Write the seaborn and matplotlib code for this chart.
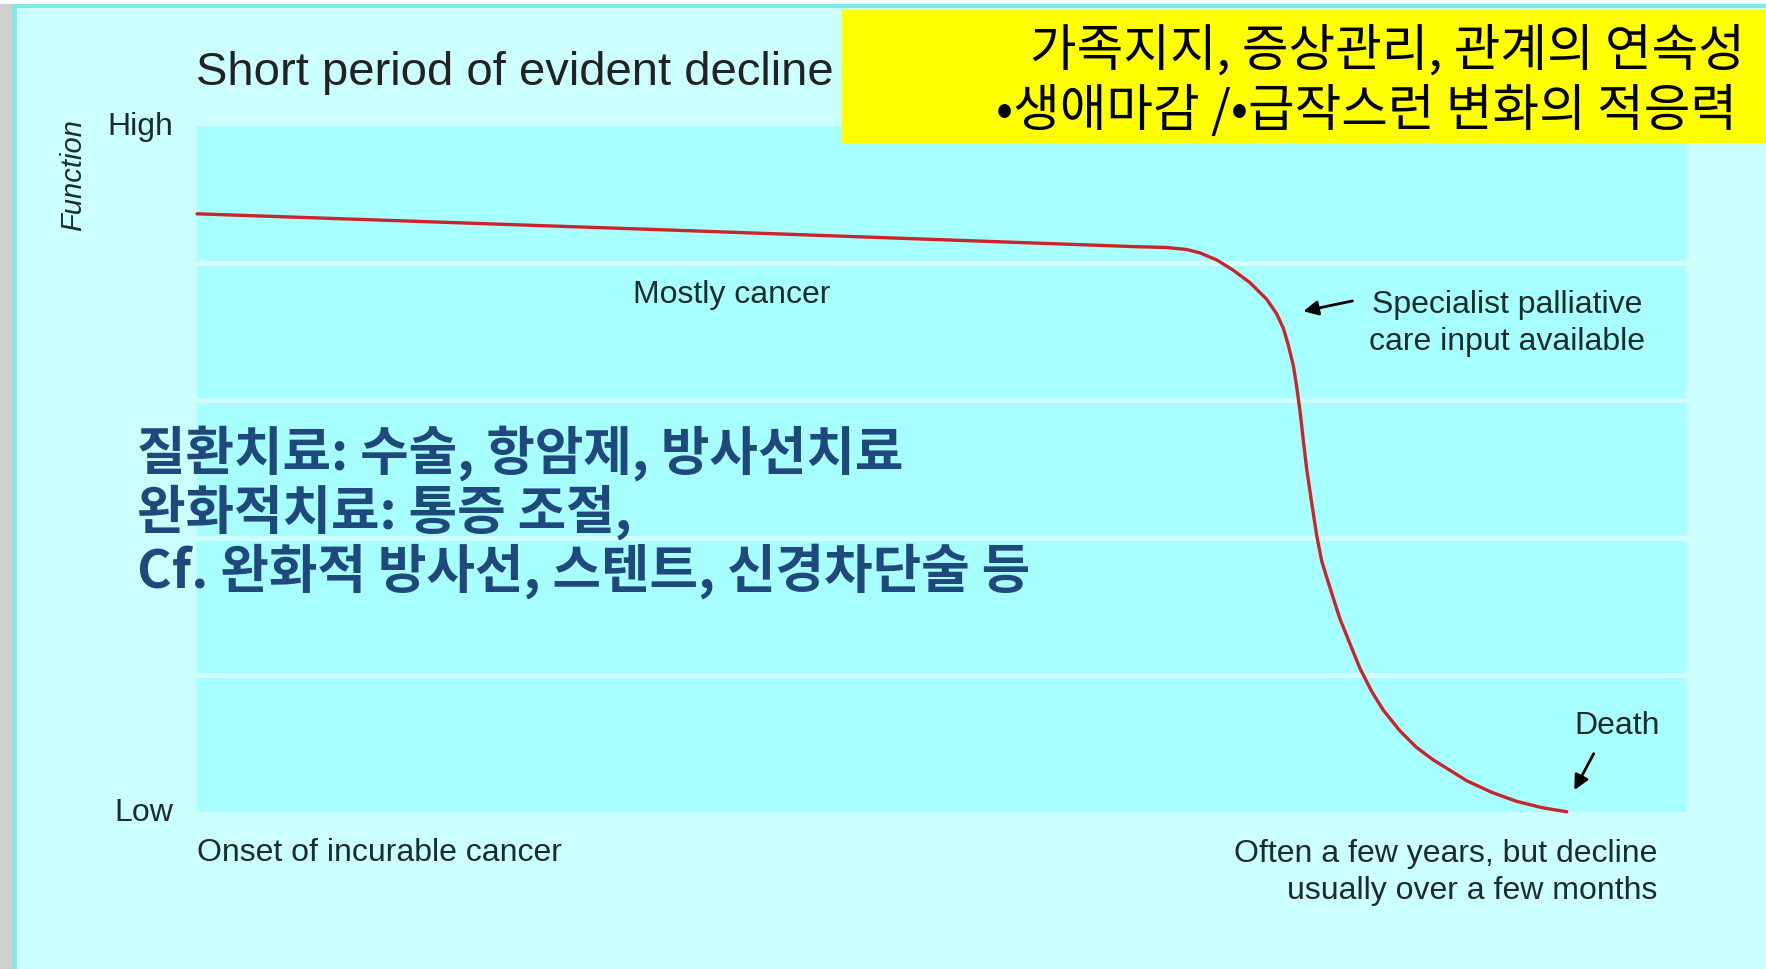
import numpy as np
import pandas as pd
import matplotlib
matplotlib.use("Agg")
import matplotlib.pyplot as plt
import seaborn as sns
from matplotlib import font_manager
from matplotlib.patches import Rectangle

# ---- data (x: time 0..1, y: function 0=Low .. 1=High) ----
time_pts = [0.0, 0.322, 0.6064, 0.6288, 0.6512, 0.6647, 0.6736, 0.6848, 0.6960, 0.7072,
            0.7184, 0.7251, 0.7296, 0.7329, 0.7363, 0.7385, 0.7408, 0.7430, 0.7453,
            0.7486, 0.7520, 0.7553, 0.7587, 0.7631, 0.7676, 0.7743, 0.7811, 0.7889,
            0.7967, 0.8079, 0.8191, 0.8303, 0.8415, 0.8527, 0.8695, 0.8863, 0.9031, 0.9199]
function_pts = [0.872, 0.848, 0.8260, 0.8242, 0.8229, 0.8200, 0.8150, 0.8048, 0.7897, 0.7716,
                0.7474, 0.7261, 0.7050, 0.6808, 0.6506, 0.6203, 0.5840, 0.5417, 0.4993,
                0.4509, 0.4026, 0.3663, 0.3421, 0.3118, 0.2816, 0.2453, 0.2090, 0.1758,
                0.1485, 0.1182, 0.0940, 0.0759, 0.0608, 0.0456, 0.0287, 0.0155, 0.0064, 0.0003]
band_edges = [0.2, 0.4, 0.6, 0.8]

title = "Short period of evident decline"
y_labels = ["High", "Low"]
y_axis_name = "Function"
onset_label = "Onset of incurable cancer"
end_label = "Often a few years, but decline\nusually over a few months"
group_label = "Mostly cancer"
specialist_label = "Specialist palliative\ncare input available"
death_label = "Death"
yellow_lines = ["가족지지, 증상관리, 관계의 연속성",
                "•생애마감 /•급작스런 변화의 적응력"]
blue_lines = ["질환치료: 수술, 항암제, 방사선치료",
              "완화적치료: 통증 조절,",
              "Cf. 완화적 방사선, 스텐트, 신경차단술 등"]

# ---- fonts ----
names = {f.name for f in font_manager.fontManager.ttflist}
if "Liberation Sans Narrow" in names:
    latin, k = "Liberation Sans Narrow", 1.2
else:
    latin, k = "Liberation Sans", 1.0
kor = ["Noto Sans CJK KR", "DejaVu Sans"]
plt.rcParams["font.family"] = [latin, "DejaVu Sans"]

BG = "#ccffff"
BAND = "#a8ffff"
TXT = "#1c2c2c"

fig = plt.figure(figsize=(17.66, 9.70), dpi=100)
fig.patch.set_facecolor(BG)

# window-ish border (gray bar left, cyan frame)
fig.patches.append(Rectangle((0, 0), 12 / 1766, 1, transform=fig.transFigure,
                             facecolor="#d0d0d0", edgecolor="none", zorder=0))
fig.patches.append(Rectangle((12 / 1766, 0), 5 / 1766, 1, transform=fig.transFigure,
                             facecolor="#80e6e6", edgecolor="none", zorder=0))
fig.patches.append(Rectangle((0, 1 - 5 / 970), 1, 5 / 970, transform=fig.transFigure,
                             facecolor="white", edgecolor="none", zorder=0))
fig.patches.append(Rectangle((12 / 1766, 1 - 9 / 970), 1, 4 / 970, transform=fig.transFigure,
                             facecolor="#80e6e6", edgecolor="none", zorder=0))

ax = fig.add_axes([197 / 1766, 1 - 813 / 970, 1489 / 1766, 686 / 970])
ax.set_facecolor(BAND)
for e in band_edges:
    ax.axhline(e, color="#d4ffff", lw=3.5, zorder=1)

df = pd.DataFrame({"time": time_pts, "function": function_pts})
sns.lineplot(data=df, x="time", y="function", ax=ax, color="#c9252b", lw=2.4,
             sort=False, zorder=3, clip_on=False,
             solid_joinstyle="round", solid_capstyle="round")

ax.set_xlim(0, 1)
ax.set_ylim(0, 1)
ax.set_xticks([])
ax.set_yticks([])
ax.set_xlabel("")
ax.set_ylabel("")
for s in ax.spines.values():
    s.set_visible(False)

# titles & labels
ax.text(-0.001, 1.078, title, fontsize=34 * k, color="#222", va="center", ha="left",
        transform=ax.transAxes)
ax.text(-0.038, 1.0, y_labels[0], fontsize=23 * k, color=TXT, ha="center", va="center")
ax.text(-0.036, 0.0, y_labels[1], fontsize=23 * k, color=TXT, ha="center", va="center")
ax.text(-0.083, 0.93, y_axis_name, fontsize=21 * k, color=TXT, rotation=90,
        style="italic", ha="center", va="center")
ax.text(0.0, -0.058, onset_label, fontsize=23 * k, color=TXT, ha="left", va="center")
ax.text(0.981, -0.087, end_label, fontsize=23 * k, color=TXT, ha="right", va="center",
        multialignment="right", linespacing=1.3)
ax.text(0.359, 0.755, group_label, fontsize=23 * k, color=TXT, ha="center", va="center")
ax.text(0.880, 0.713, specialist_label, fontsize=23 * k, color=TXT, ha="center",
        va="center", linespacing=1.3)
ax.text(0.954, 0.127, death_label, fontsize=23 * k, color=TXT, ha="center", va="center")

arrow = dict(arrowstyle="-|>", color="black", lw=2, mutation_scale=22,
             shrinkA=0, shrinkB=0)
ax.annotate("", xy=(0.743, 0.730), xytext=(0.776, 0.745), arrowprops=arrow)
ax.annotate("", xy=(0.925, 0.032), xytext=(0.938, 0.085), arrowprops=arrow)

# blue Korean overlay
for i, line in enumerate(blue_lines):
    ax.text(-0.040, 0.524 - i * 0.086, line, fontsize=38, fontweight="bold",
            color="#1f497d", family=kor, ha="left", va="center", zorder=5)

# yellow box top right (text kept inside the figure edge)
fig.patches.append(Rectangle((842 / 1766, 1 - 144 / 970), (1766 - 842) / 1766, 133 / 970,
                             transform=fig.transFigure, facecolor="#ffff00",
                             edgecolor="none", zorder=4))
fig.text(1030 / 1766, 1 - 52 / 970, yellow_lines[0], fontsize=36.5, family=kor,
         color="black", ha="left", va="center", zorder=6)
fig.text(996 / 1766, 1 - 112 / 970, yellow_lines[1], fontsize=36.5, family=kor,
         color="black", ha="left", va="center", zorder=6)

fig.savefig("out.png", dpi=100, facecolor=fig.get_facecolor())
